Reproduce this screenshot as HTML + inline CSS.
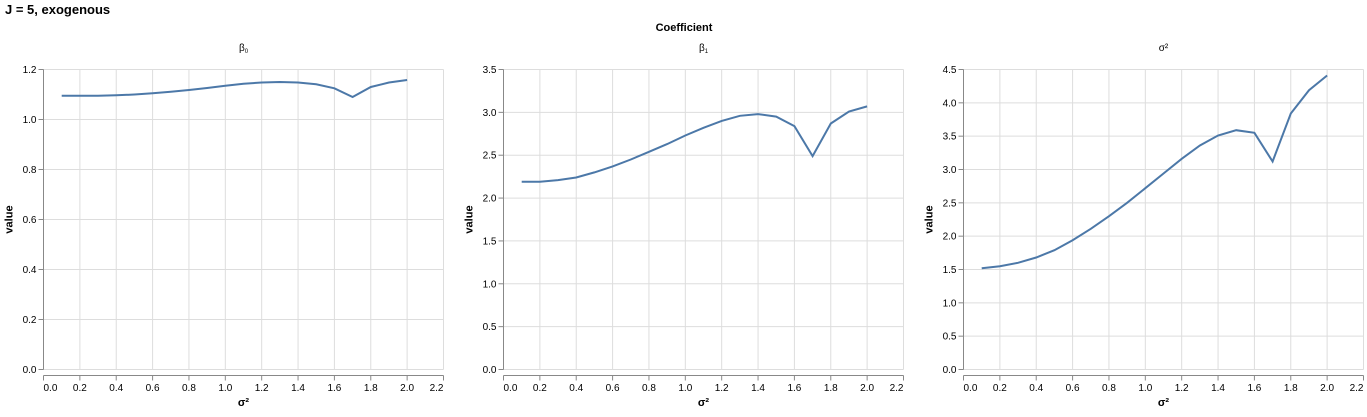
<!DOCTYPE html>
<html><head><meta charset="utf-8"><style>
body{margin:0;background:#fff;font-family:"Liberation Sans",Arial,sans-serif}
svg text{font-family:"Liberation Sans",Arial,sans-serif}
</style></head><body>
<svg id="c" width="1367" height="412" xmlns="http://www.w3.org/2000/svg">
<text x="5" y="14" font-size="13" font-weight="bold" fill="#000">J = 5, exogenous</text>
<text x="684" y="31" font-size="11" font-weight="bold" text-anchor="middle" fill="#000">Coefficient</text>
</svg>
<script>
const xs=[0.1,0.2,0.3,0.4,0.5,0.6,0.7,0.8,0.9,1.0,1.1,1.2,1.3,1.4,1.5,1.6,1.7,1.8,1.9,2.0];
const beta0=[1.095,1.095,1.095,1.097,1.100,1.105,1.111,1.118,1.126,1.135,1.143,1.148,1.150,1.148,1.141,1.125,1.090,1.130,1.148,1.158];
const beta1=[2.19,2.19,2.21,2.24,2.30,2.37,2.45,2.54,2.63,2.73,2.82,2.90,2.96,2.98,2.95,2.84,2.49,2.87,3.01,3.07];
const sigma2=[1.52,1.55,1.60,1.68,1.79,1.94,2.11,2.30,2.50,2.72,2.94,3.16,3.36,3.51,3.59,3.55,3.12,3.84,4.19,4.41];
const xTicks=[0,0.2,0.4,0.6,0.8,1.0,1.2,1.4,1.6,1.8,2.0,2.2];
const yTicks0=[0,0.2,0.4,0.6,0.8,1.0,1.2];
const yTicks1=[0,0.5,1.0,1.5,2.0,2.5,3.0,3.5];
const yTicks2=[0,0.5,1.0,1.5,2.0,2.5,3.0,3.5,4.0,4.5];
const panels=[
 {name:'beta0',title:'β',sub:'0',vals:beta0,ticks:yTicks0,ymax:1.2,x0:43.5},
 {name:'beta1',title:'β',sub:'1',vals:beta1,ticks:yTicks1,ymax:3.5,x0:503.5},
 {name:'sigma2',title:'σ²',sub:'',vals:sigma2,ticks:yTicks2,ymax:4.5,x0:963.5}
];
const svg=document.getElementById('c');
const NS='http://www.w3.org/2000/svg';
function mk(t,a,p){const e=document.createElementNS(NS,t);for(const k in a)e.setAttribute(k,a[k]);(p||svg).appendChild(e);return e;}
const W=400,plotTop=69.5,H=300;
panels.forEach(p=>{
 const g=mk('g',{});
 
 
 const xS=v=>p.x0+v/2.2*W, yS=v=>plotTop+H-v/p.ymax*H;
 xTicks.forEach(t=>{
  const l=mk('line',{x1:xS(t),x2:xS(t),y1:plotTop,y2:plotTop+H,stroke:'#ddd'},g);
  
  
  mk('line',{x1:xS(t),x2:xS(t),y1:375.5,y2:380.5,stroke:'#888'},g);
  const tx=mk('text',{x:xS(t),y:391,'font-size':10,'text-anchor':t===0?'start':(t===2.2?'end':'middle'),fill:'#000'},g);
  tx.textContent=t.toFixed(1);
  
  
 });
 p.ticks.forEach(t=>{
  const l=mk('line',{x1:p.x0,x2:p.x0+W,y1:yS(t),y2:yS(t),stroke:'#ddd'},g);
  
  
  mk('line',{x1:p.x0-5,x2:p.x0,y1:yS(t),y2:yS(t),stroke:'#888'},g);
  const tx=mk('text',{x:p.x0-7,y:yS(t)+3.5,'font-size':10,'text-anchor':'end',fill:'#000'},g);
  tx.textContent=t.toFixed(1);
  
  
 });
 mk('line',{x1:p.x0,x2:p.x0,y1:plotTop,y2:plotTop+H,stroke:'#888'},g);
 mk('line',{x1:p.x0,x2:p.x0+W,y1:375.5,y2:375.5,stroke:'#888'},g);
 const xt=mk('text',{x:p.x0+W/2,y:406,'font-size':11,'font-weight':'bold','text-anchor':'middle',fill:'#000'},g);
 xt.textContent='σ²';
 
 
 const yt=mk('text',{x:0,y:0,'font-size':11,'font-weight':'bold','text-anchor':'middle',fill:'#000',transform:`translate(${p.x0-31},${plotTop+H/2}) rotate(-90)`},g);
 yt.textContent='value';
 
 
 const st=mk('text',{x:p.x0+W/2,y:51,'font-size':10,'text-anchor':'middle',fill:'#000'},g);
 st.textContent=p.title;
 if(p.sub){const ts=mk('tspan',{'font-size':6,dy:2},st);ts.textContent=p.sub;}
 
 
 const d=xs.map((x,i)=>(i?'L':'M')+xS(x).toFixed(1)+','+yS(p.vals[i]).toFixed(1)).join('');
 const path=mk('path',{d:d,fill:'none',stroke:'#4c78a8','stroke-width':2},g);
 
 
});
</script>
</body></html>
